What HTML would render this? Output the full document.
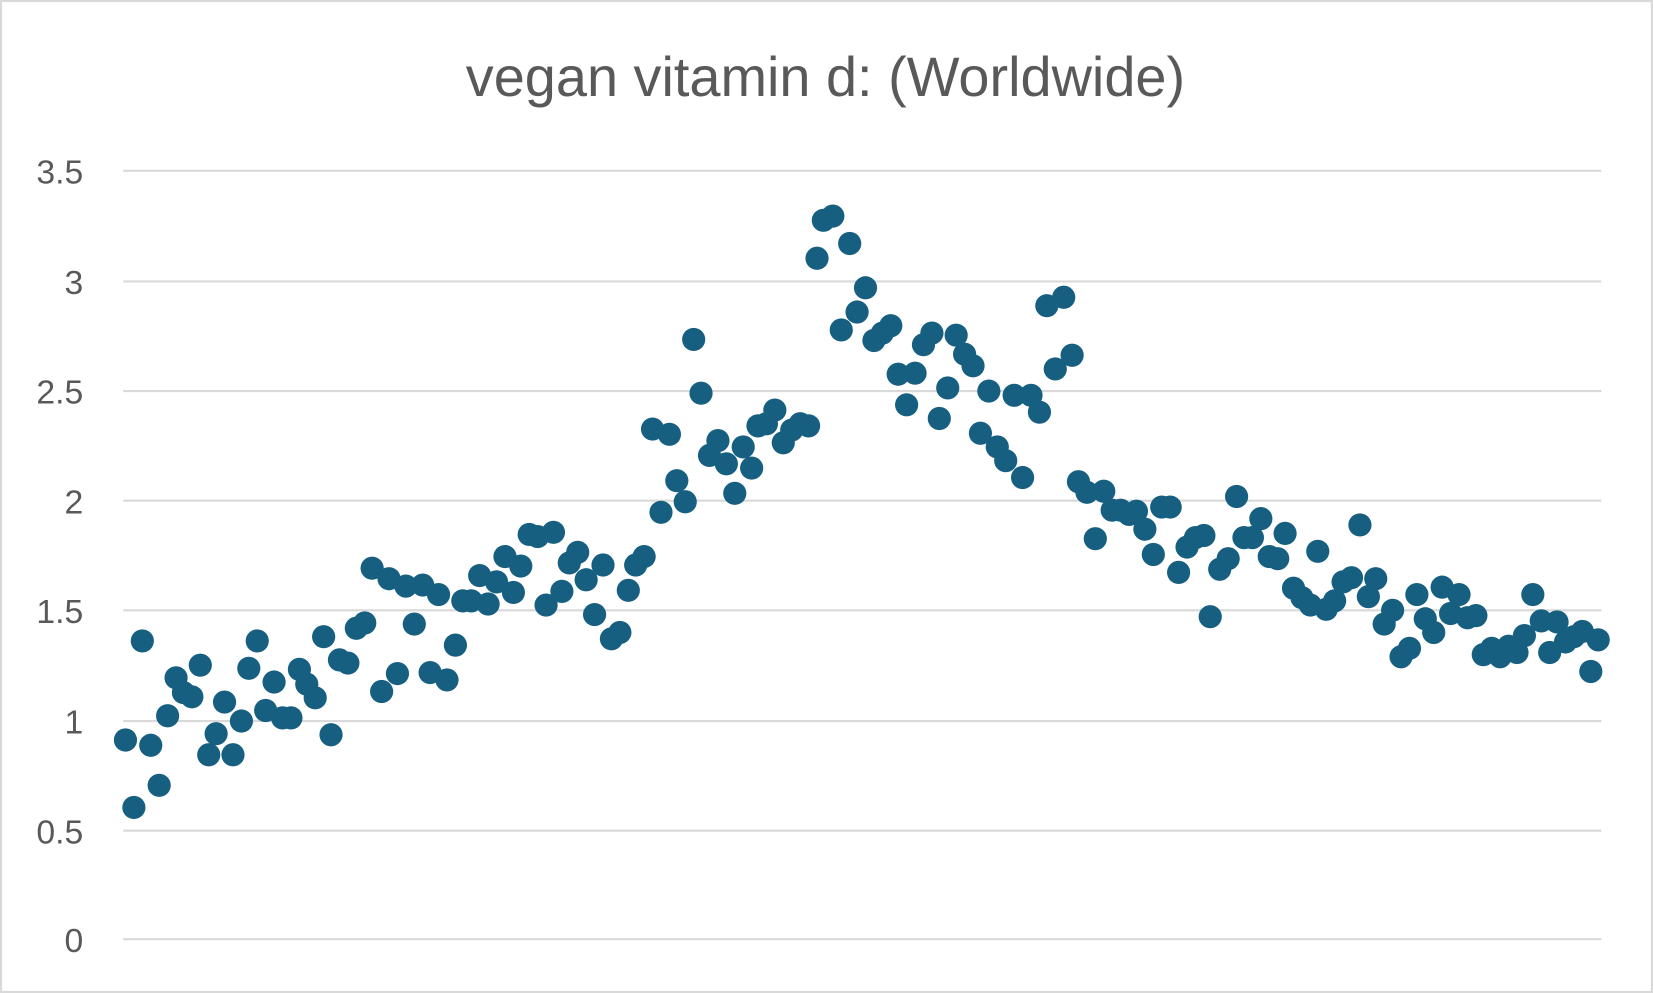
<!DOCTYPE html>
<html><head><meta charset="utf-8"><style>
html,body{margin:0;padding:0;background:#fff}
svg{display:block}
</style></head><body>
<svg width="1653" height="993" viewBox="0 0 1568 942" preserveAspectRatio="none" xmlns="http://www.w3.org/2000/svg">
<rect x="1" y="1" width="1566" height="940" fill="#fff" stroke="#d9d9d9" stroke-width="2"/>
<text x="783" y="91" text-anchor="middle" font-family="Liberation Sans, sans-serif" font-size="53" fill="#595959">vegan vitamin d: (Worldwide)</text>
<g stroke="#d9d9d9" stroke-width="2">
<line x1="117" x2="1519" y1="162" y2="162"/><line x1="117" x2="1519" y1="267" y2="267"/>
<line x1="117" x2="1519" y1="371" y2="371"/><line x1="117" x2="1519" y1="475" y2="475"/>
<line x1="117" x2="1519" y1="579" y2="579"/><line x1="117" x2="1519" y1="684" y2="684"/>
<line x1="117" x2="1519" y1="788" y2="788"/><line x1="117" x2="1519" y1="891" y2="891"/>
</g>
<g font-family="Liberation Sans, sans-serif" font-size="32" fill="#595959" text-anchor="end">
<text x="79" y="174">3.5</text><text x="79" y="279">3</text><text x="79" y="383">2.5</text>
<text x="79" y="487">2</text><text x="79" y="591">1.5</text><text x="79" y="696">1</text>
<text x="79" y="800">0.5</text><text x="79" y="903">0</text>
</g>
<g fill="#175f80">
<circle cx="119" cy="702" r="11"/><circle cx="127" cy="766" r="11"/><circle cx="135" cy="608" r="11"/><circle cx="143" cy="707" r="11"/><circle cx="151" cy="745" r="11"/><circle cx="159" cy="679" r="11"/><circle cx="167" cy="643" r="11"/><circle cx="174" cy="657" r="11"/><circle cx="182" cy="661" r="11"/><circle cx="190" cy="631" r="11"/>
<circle cx="198" cy="716" r="11"/><circle cx="205" cy="696" r="11"/><circle cx="213" cy="666" r="11"/><circle cx="221" cy="716" r="11"/><circle cx="229" cy="684" r="11"/><circle cx="236" cy="634" r="11"/><circle cx="244" cy="608" r="11"/><circle cx="252" cy="674" r="11"/><circle cx="260" cy="647" r="11"/><circle cx="268" cy="681" r="11"/>
<circle cx="276" cy="681" r="11"/><circle cx="284" cy="635" r="11"/><circle cx="291" cy="649" r="11"/><circle cx="299" cy="662" r="11"/><circle cx="307" cy="604" r="11"/><circle cx="314" cy="697" r="11"/><circle cx="322" cy="626" r="11"/><circle cx="330" cy="629" r="11"/><circle cx="338" cy="596" r="11"/><circle cx="346" cy="591" r="11"/>
<circle cx="353" cy="539" r="11"/><circle cx="362" cy="656" r="11"/><circle cx="369" cy="549" r="11"/><circle cx="377" cy="639" r="11"/><circle cx="385" cy="556" r="11"/><circle cx="393" cy="592" r="11"/><circle cx="401" cy="555" r="11"/><circle cx="408" cy="638" r="11"/><circle cx="416" cy="564" r="11"/><circle cx="424" cy="645" r="11"/>
<circle cx="432" cy="612" r="11"/><circle cx="439" cy="570" r="11"/><circle cx="447" cy="570" r="11"/><circle cx="455" cy="546" r="11"/><circle cx="463" cy="573" r="11"/><circle cx="471" cy="552" r="11"/><circle cx="479" cy="528" r="11"/><circle cx="487" cy="562" r="11"/><circle cx="494" cy="537" r="11"/><circle cx="502" cy="507" r="11"/>
<circle cx="510" cy="509" r="11"/><circle cx="518" cy="574" r="11"/><circle cx="525" cy="505" r="11"/><circle cx="533" cy="561" r="11"/><circle cx="540" cy="534" r="11"/><circle cx="548" cy="524" r="11"/><circle cx="556" cy="550" r="11"/><circle cx="564" cy="583" r="11"/><circle cx="572" cy="536" r="11"/><circle cx="580" cy="606" r="11"/>
<circle cx="588" cy="600" r="11"/><circle cx="596" cy="560" r="11"/><circle cx="603" cy="536" r="11"/><circle cx="611" cy="528" r="11"/><circle cx="619" cy="407" r="11"/><circle cx="627" cy="486" r="11"/><circle cx="635" cy="412" r="11"/><circle cx="642" cy="456" r="11"/><circle cx="650" cy="476" r="11"/><circle cx="658" cy="322" r="11"/>
<circle cx="665" cy="373" r="11"/><circle cx="673" cy="432" r="11"/><circle cx="681" cy="418" r="11"/><circle cx="689" cy="440" r="11"/><circle cx="697" cy="468" r="11"/><circle cx="705" cy="424" r="11"/><circle cx="713" cy="444" r="11"/><circle cx="719" cy="404" r="11"/><circle cx="727" cy="402" r="11"/><circle cx="735" cy="389" r="11"/>
<circle cx="743" cy="420" r="11"/><circle cx="751" cy="408" r="11"/><circle cx="759" cy="402" r="11"/><circle cx="767" cy="404" r="11"/><circle cx="775" cy="245" r="11"/><circle cx="781" cy="209" r="11"/><circle cx="790" cy="205" r="11"/><circle cx="798" cy="313" r="11"/><circle cx="806" cy="231" r="11"/><circle cx="813" cy="296" r="11"/>
<circle cx="821" cy="273" r="11"/><circle cx="829" cy="323" r="11"/><circle cx="837" cy="316" r="11"/><circle cx="845" cy="309" r="11"/><circle cx="852" cy="355" r="11"/><circle cx="860" cy="384" r="11"/><circle cx="868" cy="354" r="11"/><circle cx="876" cy="327" r="11"/><circle cx="884" cy="316" r="11"/><circle cx="891" cy="397" r="11"/>
<circle cx="899" cy="368" r="11"/><circle cx="907" cy="318" r="11"/><circle cx="915" cy="336" r="11"/><circle cx="923" cy="347" r="11"/><circle cx="930" cy="411" r="11"/><circle cx="938" cy="371" r="11"/><circle cx="946" cy="424" r="11"/><circle cx="954" cy="437" r="11"/><circle cx="962" cy="375" r="11"/><circle cx="970" cy="453" r="11"/>
<circle cx="978" cy="375" r="11"/><circle cx="986" cy="391" r="11"/><circle cx="993" cy="290" r="11"/><circle cx="1001" cy="350" r="11"/><circle cx="1009" cy="282" r="11"/><circle cx="1017" cy="337" r="11"/><circle cx="1023" cy="457" r="11"/><circle cx="1031" cy="467" r="11"/><circle cx="1039" cy="511" r="11"/><circle cx="1047" cy="466" r="11"/>
<circle cx="1055" cy="484" r="11"/><circle cx="1063" cy="484" r="11"/><circle cx="1071" cy="488" r="11"/><circle cx="1078" cy="485" r="11"/><circle cx="1086" cy="502" r="11"/><circle cx="1094" cy="526" r="11"/><circle cx="1102" cy="481" r="11"/><circle cx="1110" cy="481" r="11"/><circle cx="1118" cy="543" r="11"/><circle cx="1126" cy="519" r="11"/>
<circle cx="1134" cy="510" r="11"/><circle cx="1142" cy="508" r="11"/><circle cx="1148" cy="585" r="11"/><circle cx="1157" cy="540" r="11"/><circle cx="1165" cy="530" r="11"/><circle cx="1173" cy="471" r="11"/><circle cx="1180" cy="510" r="11"/><circle cx="1188" cy="510" r="11"/><circle cx="1196" cy="492" r="11"/><circle cx="1204" cy="528" r="11"/>
<circle cx="1212" cy="530" r="11"/><circle cx="1219" cy="506" r="11"/><circle cx="1227" cy="558" r="11"/><circle cx="1235" cy="567" r="11"/><circle cx="1243" cy="574" r="11"/><circle cx="1250" cy="523" r="11"/><circle cx="1258" cy="578" r="11"/><circle cx="1266" cy="570" r="11"/><circle cx="1274" cy="552" r="11"/><circle cx="1282" cy="548" r="11"/>
<circle cx="1290" cy="498" r="11"/><circle cx="1298" cy="566" r="11"/><circle cx="1305" cy="549" r="11"/><circle cx="1313" cy="592" r="11"/><circle cx="1321" cy="579" r="11"/><circle cx="1329" cy="623" r="11"/><circle cx="1337" cy="615" r="11"/><circle cx="1344" cy="564" r="11"/><circle cx="1352" cy="587" r="11"/><circle cx="1360" cy="600" r="11"/>
<circle cx="1368" cy="557" r="11"/><circle cx="1376" cy="582" r="11"/><circle cx="1384" cy="564" r="11"/><circle cx="1392" cy="586" r="11"/><circle cx="1400" cy="584" r="11"/><circle cx="1407" cy="621" r="11"/><circle cx="1415" cy="615" r="11"/><circle cx="1423" cy="623" r="11"/><circle cx="1431" cy="613" r="11"/><circle cx="1439" cy="619" r="11"/>
<circle cx="1446" cy="603" r="11"/><circle cx="1454" cy="564" r="11"/><circle cx="1462" cy="589" r="11"/><circle cx="1470" cy="619" r="11"/><circle cx="1477" cy="590" r="11"/><circle cx="1485" cy="609" r="11"/><circle cx="1493" cy="604" r="11"/><circle cx="1501" cy="599" r="11"/><circle cx="1509" cy="637" r="11"/><circle cx="1516" cy="607" r="11"/>
</g>
</svg>
</body></html>
